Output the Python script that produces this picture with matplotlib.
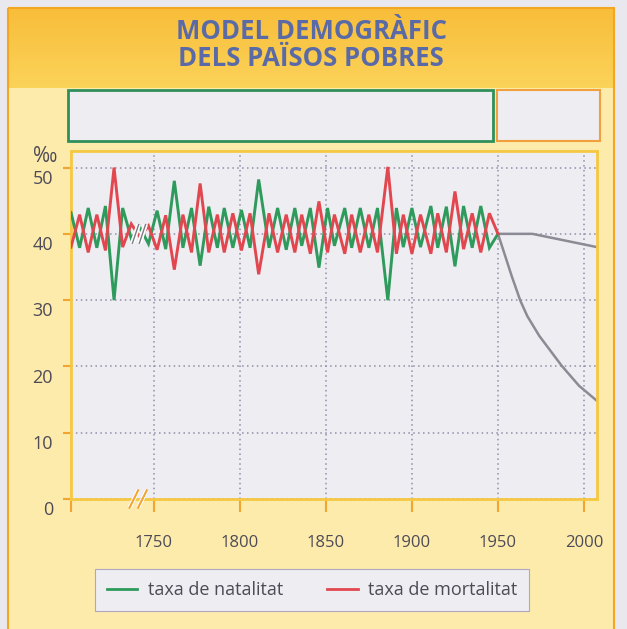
import numpy as np
import matplotlib
matplotlib.use('Agg')
import matplotlib.pyplot as plt
from matplotlib.patches import Rectangle
from matplotlib.lines import Line2D
from matplotlib.colors import LinearSegmentedColormap
import matplotlib.transforms as mtransforms

plt.rcParams['font.family'] = ['Open Sans', 'DejaVu Sans']

# --- data (per mille) ---
years = [1702, 1707, 1712, 1717, 1722, 1727, 1732, 1737, 1742, 1747,
         1752, 1757, 1762, 1767, 1772, 1777, 1782, 1787, 1791, 1796,
         1801, 1806, 1811, 1817, 1822, 1827, 1832, 1836, 1841, 1846,
         1851, 1855, 1861, 1865, 1870, 1875, 1880, 1886, 1891, 1895,
         1900, 1905, 1911, 1915, 1920, 1925, 1930, 1935, 1940, 1945, 1950]

natalitat = [43.2, 37.9, 43.9, 37.9, 44.2, 30.0, 43.9, 39.3, 41.0, 38.5,
             43.5, 37.7, 48.0, 37.9, 43.9, 35.2, 44.1, 37.9, 43.9, 37.9,
             43.6, 37.9, 48.2, 37.9, 43.9, 37.6, 43.9, 38.2, 43.9, 34.9,
             43.9, 38.2, 43.9, 37.9, 43.9, 37.9, 43.9, 30.0, 43.9, 38.0,
             43.9, 38.0, 44.2, 37.9, 44.1, 35.1, 44.2, 37.9, 44.2, 37.9, 40.0]

mortalitat = [38.0, 42.9, 37.2, 42.9, 37.5, 50.0, 38.0, 41.5, 39.5, 41.2,
              37.6, 42.8, 34.6, 42.9, 37.2, 47.6, 37.2, 42.9, 37.2, 43.1,
              37.5, 43.1, 33.9, 43.1, 37.2, 42.9, 37.2, 42.9, 37.0, 44.9,
              37.2, 42.9, 37.0, 42.9, 37.2, 42.9, 37.2, 50.1, 37.0, 42.9,
              37.0, 42.9, 37.0, 43.1, 37.2, 46.4, 37.7, 43.1, 37.2, 43.1, 40.0]

years_nat_after = [1950, 1970, 2007.5]
natalitat_after = [40.0, 40.0, 38.0]

years_mort_after = [1950, 1953, 1958, 1963, 1967, 1974, 1987, 1997, 2007.5]
mortalitat_after = [40.0, 37.6, 33.6, 29.9, 27.6, 24.6, 20.1, 17.1, 14.8]

x_ticks = [1750, 1800, 1850, 1900, 1950, 2000]
y_ticks = [0, 10, 20, 30, 40, 50]

title = 'MODEL DEMOGRÀFIC\nDELS PAÏSOS POBRES'
labels = ['taxa de natalitat', 'taxa de mortalitat']

GREEN = '#2e9a5c'
RED = '#e2474f'
GREY = '#8c8a94'
TXT = '#4e4b57'
ORANGE = '#f2a531'
PANEL = '#ededf2'

W, H = 627, 629
fig = plt.figure(figsize=(W / 100, H / 100), dpi=100)
fig.patch.set_facecolor('#e9e8ee')

# background decorations in pixel coordinates
bg = fig.add_axes([0, 0, 1, 1])
bg.axis('off')
cmap = LinearSegmentedColormap.from_list('hdr', ['#f8bd3a', '#fbd359'])
bg.imshow(np.linspace(0, 1, 80).reshape(-1, 1), extent=(8, 614, 88, 8),
          cmap=cmap, aspect='auto')
bg.add_patch(Rectangle((8, 88), 606, 545, fc='#fcebab', ec='none'))
bg.add_patch(Rectangle((8, 8), 606, 640, fill=False, ec='#f4a623', lw=1.5))
bg.add_patch(Rectangle((68, 90), 425, 51, fc=PANEL, ec='#2f8f5a', lw=2))
bg.add_patch(Rectangle((497, 90), 103, 51, fc=PANEL, ec='#f2a03c', lw=1.5))
bg.set_xlim(0, W)
bg.set_ylim(H, 0)

bg.text(311, 45, title, ha='center', va='center', fontsize=18.5,
        fontweight='bold', color='#5a6aa6', linespacing=1.02)
bg.text(45, 156, '‰', ha='center', va='center', fontsize=15, color=TXT)

# main chart
ax = fig.add_axes([71 / W, 1 - 499 / H, 526 / W, 348 / H])
ax.set_facecolor(PANEL)
ax.plot(years, natalitat, color=GREEN, lw=2.1, solid_joinstyle='miter', zorder=3)
ax.plot(years, mortalitat, color=RED, lw=2.1, solid_joinstyle='miter', zorder=3)
ax.plot(years_nat_after, natalitat_after, color=GREY, lw=1.8, zorder=2)
ax.plot(years_mort_after, mortalitat_after, color=GREY, lw=1.8, zorder=2)

ax.set_xlim(1702, 2007.5)
ax.set_ylim(0, 52.5)
ax.set_xticks(x_ticks)
ax.set_xticks([1702], minor=True)
ax.set_yticks(y_ticks)
ax.grid(color='#958ca8', ls=(0, (1, 2.2)), lw=1.1)
ax.set_axisbelow(True)
for s in ax.spines.values():
    s.set_color('#f6c842')
    s.set_linewidth(2)
ax.tick_params(axis='x', which='both', length=9, width=1.5, color=ORANGE,
               pad=17, labelsize=12, labelcolor=TXT)
ax.tick_params(axis='y', length=6, width=1.5, color=ORANGE, pad=7,
               labelsize=13, labelcolor=TXT)
shift = mtransforms.ScaledTranslation(0, -1.5 / 72, fig.dpi_scale_trans)
for lab in ax.get_yticklabels():
    lab.set_verticalalignment('top')
    lab.set_transform(lab.get_transform() + shift)

# axis break marks
for xb in (1739.5, 1743.5):
    ax.plot([xb - 1.8, xb + 1.8], [38.6, 41.4], color='white', lw=3.5,
            zorder=4, solid_capstyle='butt')
    ax.plot([xb - 1.8, xb + 1.8], [38.6, 41.4], color='#7d7a85', lw=1,
            zorder=5)
for xb in (1738.5, 1743.5):
    ax.plot([xb - 2.5, xb + 2.5], [-1.3, 1.3], color='white', lw=3,
            zorder=6, clip_on=False, solid_capstyle='butt')
    ax.plot([xb - 2.5, xb + 2.5], [-1.3, 1.3], color=ORANGE, lw=1.5,
            zorder=7, clip_on=False)

# legend
handles = [Line2D([], [], color=GREEN, lw=2), Line2D([], [], color=RED, lw=2)]
leg = fig.legend(handles, labels, loc='center left', ncol=2,
                 bbox_to_anchor=(95 / W, 1 - 590 / H),
                 fontsize=13, handlelength=1.7, handletextpad=0.6,
                 columnspacing=2.4, borderpad=0.65, borderaxespad=0,
                 fancybox=False, frameon=True)
leg.get_frame().set_facecolor(PANEL)
leg.get_frame().set_edgecolor('#b0a6c0')
leg.get_frame().set_linewidth(0.8)
leg.get_frame().set_alpha(1)
for t in leg.get_texts():
    t.set_color(TXT)

fig.savefig('out.png', dpi=100, facecolor=fig.get_facecolor())
